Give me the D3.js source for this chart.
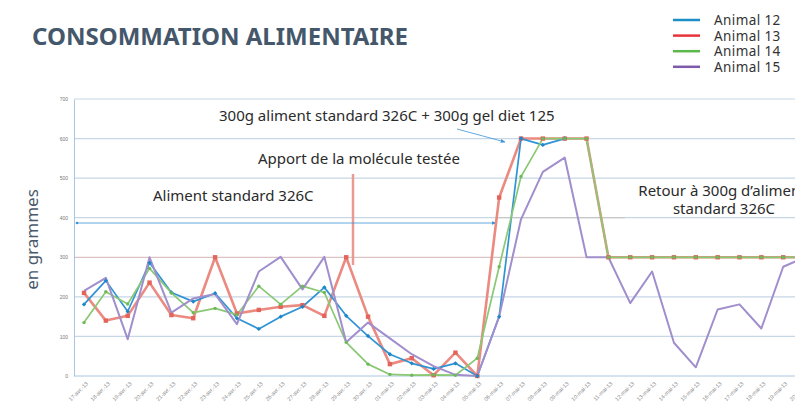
<!DOCTYPE html>
<html>
<head>
<meta charset="utf-8">
<script src="https://cdn.jsdelivr.net/npm/d3@7"></script>
<style>
  body { margin: 0; background: #fff; }
  svg { display: block; font-family: "Noto Sans", sans-serif; }
</style>
</head>
<body>
<script>
// data (grams of food per day)
const dates = [
  "17-avr.-13", "18-avr.-13", "19-avr.-13", "20-avr.-13", "21-avr.-13", "22-avr.-13",
  "23-avr.-13", "24-avr.-13", "25-avr.-13", "26-avr.-13", "27-avr.-13", "28-avr.-13",
  "29-avr.-13", "30-avr.-13", "01-mai-13", "02-mai-13", "03-mai-13", "04-mai-13",
  "05-mai-13", "06-mai-13", "07-mai-13", "08-mai-13", "09-mai-13", "10-mai-13",
  "11-mai-13", "12-mai-13", "13-mai-13", "14-mai-13", "15-mai-13", "16-mai-13",
  "17-mai-13", "18-mai-13", "19-mai-13", "20-mai-13"
];
const animal12 = [181, 241, 163, 286, 211, 188, 209, 146, 119, 150, 175, 224, 152, 101, 55, 32, 18, 32,
  0, 150, 600, 584, 600];
const animal13 = [210, 140, 152, 236, 154, 146, 300, 158, 167, 175, 179, 152, 300, 150, 30, 45, 2, 59,
  0, 451, 600, 600, 600, 600, 300, 300, 300, 300, 300, 300, 300, 300, 300, 300];
const animal14 = [135, 213, 182, 272, 210, 160, 171, 155, 227, 181, 227, 211, 85, 30, 4, 2, 3, 2,
  45, 276, 504, 600, 600, 600, 300, 300, 300, 300, 300, 300, 300, 300, 300, 300];
const animal15 = [215, 248, 93, 300, 160, 196, 207, 131, 264, 301, 219, 301, 85, 135, 95, 55, 25, 3,
  0, 150, 396, 516, 552, 300, 300, 184, 264, 84, 22, 168, 181, 120, 276, 300];
const yTicks = [0, 100, 200, 300, 400, 500, 600, 700];
const legendNames = ["Animal 12", "Animal 13", "Animal 14", "Animal 15"];

const W = 795, H = 403;
const plot = {left: 74, top: 99, bottom: 376, right: 795};

const svg = d3.select("body").append("svg")
  .attr("width", W)
  .attr("height", H);

const x = d3.scalePoint()
  .domain(dates)
  .range([84, 84 + 21.85 * (dates.length - 1)]);

const y = d3.scaleLinear()
  .domain([0, 700])
  .range([plot.bottom, plot.top]);

const series = [
  {name: legendNames[1], values: animal13, color: "#ea8a80", legend: "#e8333a", width: 2.6, marker: "square"},
  {name: legendNames[0], values: animal12, color: "#3094d4", legend: "#1b8fc6", width: 1.7, marker: "diamond"},
  {name: legendNames[2], values: animal14, color: "#8ac874", legend: "#5cb84a", width: 1.7, marker: "circle"},
  {name: legendNames[3], values: animal15, color: "#a08ecd", legend: "#7d5aab", width: 2, marker: null}
];

// title
svg.append("text")
  .attr("x", 32).attr("y", 45)
  .attr("font-size", 24).attr("font-weight", "bold")
  .attr("fill", "#44576b")
  .text("CONSOMMATION ALIMENTAIRE");

// gridlines
svg.append("g")
  .selectAll("line")
  .data(yTicks.slice(1))
  .join("line")
  .attr("x1", plot.left).attr("x2", plot.right)
  .attr("y1", d => y(d)).attr("y2", d => y(d))
  .attr("stroke", d => d === 300 ? "#dcc2c2" : "#c6d7e6")
  .attr("stroke-width", 1.2);

// grey segment on 400 line
svg.append("line")
  .attr("x1", 495).attr("x2", 625)
  .attr("y1", y(400)).attr("y2", y(400))
  .attr("stroke", "#c8c8c8").attr("stroke-width", 1.2);

// y axis
const yAxis = svg.append("g")
  .attr("transform", `translate(${plot.left},0)`)
  .call(d3.axisLeft(y).tickValues(yTicks).tickSize(0).tickPadding(6));
yAxis.select(".domain").attr("stroke", "#a9c6de");
yAxis.selectAll("text").attr("font-size", 5).attr("fill", "#777");

// x axis
const xAxis = svg.append("g")
  .attr("transform", `translate(0,${plot.bottom})`)
  .call(d3.axisBottom(x).tickSize(0).tickPadding(4));
xAxis.select(".domain").attr("d", `M${plot.left},0H${plot.right}`).attr("stroke", "#a9c6de");
xAxis.selectAll("text")
  .attr("font-size", 5.5).attr("fill", "#888")
  .attr("text-anchor", "end")
  .attr("dy", "0.3em")
  .attr("transform", "translate(0,4) rotate(-45)");

svg.append("text")
  .attr("transform", `translate(38,${(plot.top + plot.bottom) / 2 + 2}) rotate(-90)`)
  .attr("text-anchor", "middle")
  .attr("font-size", 17).attr("fill", "#4a5869")
  .text("en grammes");

// annotations
const note = (tx, ty, str, anchor) => svg.append("text")
  .attr("x", tx).attr("y", ty)
  .attr("font-size", 15).attr("fill", "#2b2b2b")
  .attr("text-anchor", anchor || "start")
  .text(str);

svg.append("defs").append("marker")
  .attr("id", "arrowBlue")
  .attr("viewBox", "0 0 10 10").attr("refX", 9).attr("refY", 5)
  .attr("markerWidth", 6).attr("markerHeight", 6).attr("orient", "auto")
  .append("path").attr("d", "M0,1L10,5L0,9z").attr("fill", "#3a93d6");

note(219, 121, "300g aliment standard 326C + 300g gel diet 125");
svg.append("line")
  .attr("x1", 457).attr("y1", 129).attr("x2", 505).attr("y2", 142)
  .attr("stroke", "#3a93d6").attr("stroke-width", 0.8)
  .attr("marker-end", "url(#arrowBlue)");

note(258, 164, "Apport de la molécule testée");
svg.append("line")
  .attr("x1", 353).attr("x2", 353).attr("y1", 174).attr("y2", 265)
  .attr("stroke", "#ea9a90").attr("stroke-width", 2.5);

note(153, 201, "Aliment standard 326C");
svg.append("line")
  .attr("x1", 77).attr("x2", 496).attr("y1", 223).attr("y2", 223)
  .attr("stroke", "#3a93d6").attr("stroke-width", 0.8)
  .attr("marker-end", "url(#arrowBlue)");
svg.append("circle").attr("cx", 77).attr("cy", 223).attr("r", 1.3).attr("fill", "#3a93d6");

note(722, 196, "Retour à 300g d’aliment", "middle");
note(724, 214, "standard 326C", "middle");

// lines
const line = d3.line()
  .x((d, i) => x(dates[i]))
  .y(d => y(d));

svg.append("g")
  .selectAll("path")
  .data(series)
  .join("path")
  .attr("fill", "none")
  .attr("stroke", d => d.color)
  .attr("stroke-width", d => d.width)
  .attr("stroke-linejoin", "round")
  .attr("d", d => line(d.values));

// markers
series.filter(s => s.marker).forEach(s => {
  const g = svg.append("g");
  const pts = g.selectAll("path")
    .data(s.values)
    .join("path")
    .attr("transform", (d, i) => `translate(${x(dates[i])},${y(d)})`)
    .attr("fill", s.marker === "square" ? "#e2645a" : s.marker === "circle" ? "#6fb85a" : "#1f86c8");
  if (s.marker === "square") pts.attr("d", "M-2.2,-2.2h4.4v4.4h-4.4z");
  else if (s.marker === "diamond") pts.attr("d", "M0,-2.2L2.2,0L0,2.2L-2.2,0z");
  else pts.attr("d", d3.symbol().type(d3.symbolCircle).size(9)());
});

// legend
const legend = svg.append("g")
  .selectAll("g")
  .data([series[1], series[0], series[2], series[3]])
  .join("g")
  .attr("transform", (d, i) => `translate(673,${20 + i * 15.6})`);
legend.append("line")
  .attr("x1", 0).attr("x2", 27)
  .attr("stroke", d => d.legend).attr("stroke-width", 2.5);
legend.append("text")
  .attr("x", 41).attr("y", 5)
  .attr("font-size", 13.5).attr("letter-spacing", 0.4).attr("fill", "#333")
  .text(d => d.name);
</script>
</body>
</html>
